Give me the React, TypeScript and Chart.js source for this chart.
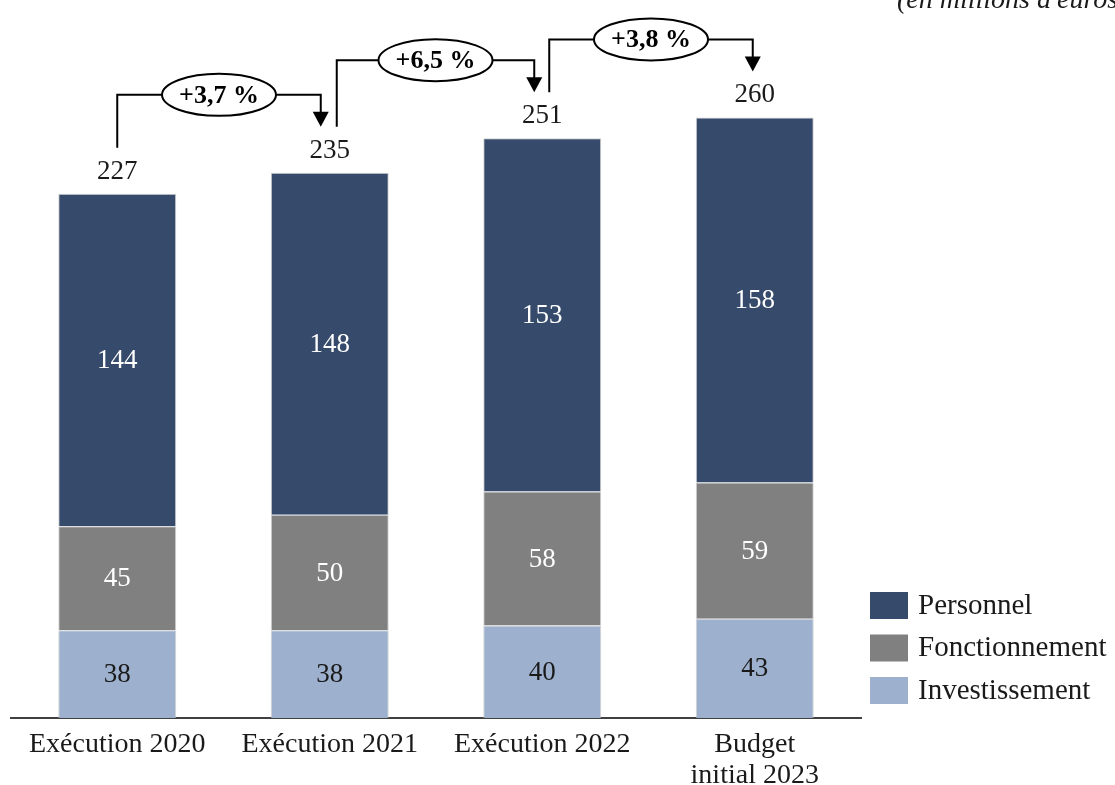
import React, { useEffect, useRef } from 'react';
import { Chart, registerables } from 'chart.js';

Chart.register(...registerables);

const categories = [['Exécution 2020'], ['Exécution 2021'], ['Exécution 2022'], ['Budget', 'initial 2023']];
const personnel = [144, 148, 153, 158];
const fonctionnement = [45, 50, 58, 59];
const investissement = [38, 38, 40, 43];
const totals = [227, 235, 251, 260];
const growthLabels = ['+3,7 %', '+6,5 %', '+3,8 %'];
const unitLabel = "(en millions d'euros)";

const FONT = '"Liberation Serif", "Times New Roman", serif';
const COLORS = { personnel: '#364B6B', fonctionnement: '#808080', investissement: '#9DB0CE' };
const SEG_LABEL_COLORS = ['#1a1a1a', '#ffffff', '#ffffff'];
const ARROW_START_OFFSETS = [0, 7, 7];
const ARROW_END_OFFSETS = [-9, -8, -2];

const overlay = {
  id: 'overlay',
  afterDatasetsDraw(chart: any) {
    const ctx = chart.ctx as CanvasRenderingContext2D;
    ctx.save();
    ctx.textAlign = 'center';
    ctx.textBaseline = 'middle';
    // segment values
    chart.data.datasets.forEach((ds: any, di: number) => {
      const meta = chart.getDatasetMeta(di);
      meta.data.forEach((bar: any, i: number) => {
        const p = bar.getProps(['x', 'y', 'base'], true);
        ctx.fillStyle = SEG_LABEL_COLORS[di];
        ctx.font = `27px ${FONT}`;
        ctx.fillText(String(ds.data[i]), p.x, (p.y + p.base) / 2 + 1);
      });
    });
    // totals
    const topMeta = chart.getDatasetMeta(chart.data.datasets.length - 1);
    const tops = topMeta.data.map((b: any) => b.getProps(['y'], true).y);
    const centers = topMeta.data.map((b: any) => b.getProps(['x'], true).x);
    ctx.fillStyle = '#1a1a1a';
    ctx.font = `27px ${FONT}`;
    totals.forEach((t, i) => ctx.fillText(String(t), centers[i], tops[i] - 22));
    // arrows
    ctx.strokeStyle = '#000';
    ctx.fillStyle = '#000';
    ctx.lineWidth = 2;
    growthLabels.forEach((lab, i) => {
      const x0 = centers[i] + ARROW_START_OFFSETS[i];
      const x1 = centers[i + 1] + ARROW_END_OFFSETS[i];
      const y0 = tops[i] - 46;
      const yh = tops[i + 1] - 78;
      const yTip = tops[i + 1] - 46;
      ctx.beginPath();
      ctx.moveTo(x0, y0);
      ctx.lineTo(x0, yh);
      ctx.lineTo(x1, yh);
      ctx.lineTo(x1, yTip - 12);
      ctx.stroke();
      ctx.beginPath();
      ctx.moveTo(x1 - 8, yTip - 15);
      ctx.lineTo(x1 + 8, yTip - 15);
      ctx.lineTo(x1, yTip);
      ctx.closePath();
      ctx.fill();
      const cx = (x0 + x1) / 2;
      ctx.beginPath();
      ctx.ellipse(cx, yh, 57, 21, 0, 0, Math.PI * 2);
      ctx.fillStyle = '#fff';
      ctx.fill();
      ctx.stroke();
      ctx.fillStyle = '#000';
      ctx.font = `bold 26px ${FONT}`;
      ctx.fillText(lab, cx, yh + 1);
    });
    ctx.restore();
  },
  afterDraw(chart: any) {
    const ctx = chart.ctx as CanvasRenderingContext2D;
    ctx.save();
    // legend (top to bottom: last dataset first)
    const dss = chart.data.datasets.slice().reverse();
    dss.forEach((ds: any, i: number) => {
      const y = 592 + i * 42.5;
      ctx.fillStyle = ds.backgroundColor;
      ctx.fillRect(870, y, 38, 27);
      ctx.fillStyle = '#1a1a1a';
      ctx.font = `29px ${FONT}`;
      ctx.textAlign = 'left';
      ctx.textBaseline = 'middle';
      ctx.fillText(ds.label, 918, y + 14);
    });
    // unit label
    ctx.font = `italic 28px ${FONT}`;
    ctx.textAlign = 'left';
    ctx.textBaseline = 'alphabetic';
    ctx.fillStyle = '#1a1a1a';
    ctx.fillText(unitLabel, 897, 8);
    ctx.restore();
  },
};

export default function App() {
  const ref = useRef<HTMLCanvasElement>(null);
  useEffect(() => {
    if (!ref.current) return;
    const border = 'rgba(190,190,190,0.7)';
    const chart = new Chart(ref.current, {
      type: 'bar',
      data: {
        labels: categories as any,
        datasets: [
          { label: 'Investissement', data: investissement, backgroundColor: COLORS.investissement, borderColor: border, borderWidth: 1 },
          { label: 'Fonctionnement', data: fonctionnement, backgroundColor: COLORS.fonctionnement, borderColor: border, borderWidth: 1 },
          { label: 'Personnel', data: personnel, backgroundColor: COLORS.personnel, borderColor: border, borderWidth: 1 },
        ],
      },
      options: {
        responsive: false,
        animation: false,
        devicePixelRatio: 1,
        layout: { padding: { left: 11, right: 254, top: 25, bottom: 0 } },
        datasets: { bar: { barPercentage: 0.555, categoryPercentage: 1 } },
        plugins: { legend: { display: false }, tooltip: { enabled: false }, title: { display: false } },
        scales: {
          x: {
            stacked: true,
            grid: { display: false, drawTicks: false },
            border: { display: true, color: '#404040', width: 2 },
            ticks: {
              color: '#1a1a1a',
              font: { family: FONT, size: 28, lineHeight: 1.08 },
              padding: 12,
              maxRotation: 0,
              autoSkip: false,
            },
            afterFit: (s: any) => { s.height = 67; },
          },
          y: { stacked: true, display: false, min: 0, max: 300 },
        },
      },
      plugins: [overlay],
    });
    return () => chart.destroy();
  }, []);
  return (
    <div style={{ position: 'absolute', left: 0, top: 0, width: 1115, height: 785, background: '#fff' }}>
      <canvas ref={ref} width={1115} height={785} />
    </div>
  );
}
